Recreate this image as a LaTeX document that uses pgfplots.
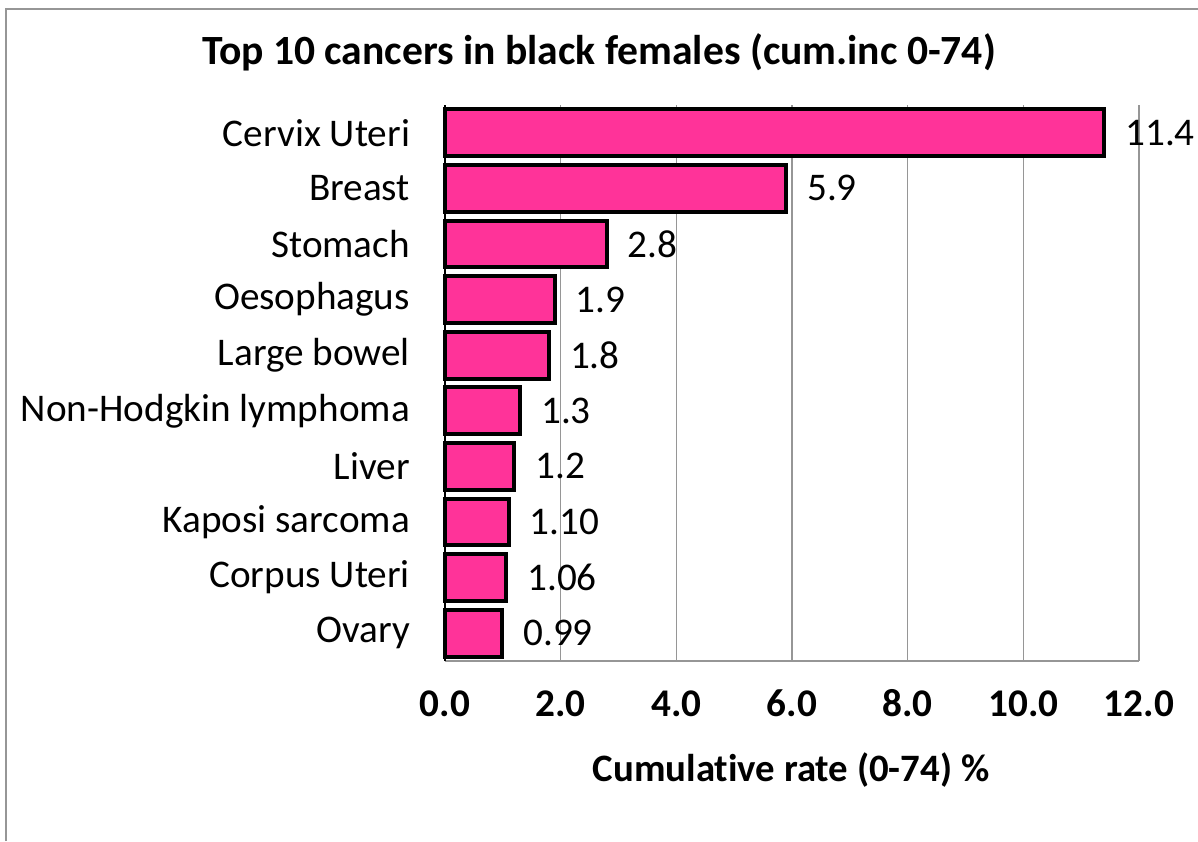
\documentclass[border=0pt]{standalone}
\usepackage{pgfplots}
\pgfplotsset{compat=1.18}
\usepackage{fontspec}
\setmainfont[Ligatures=NoCommon]{Carlito}
\definecolor{barpink}{RGB}{255,51,153}
\definecolor{framegray}{RGB}{150,150,150}
\begin{document}
\begin{tikzpicture}
\path[use as bounding box] (0,0) rectangle (599pt,420.5pt);
\draw[framegray, line width=1pt] (3pt,0) -- (3pt,416pt) -- (599pt,416pt);
\node[font=\fontsize{20.8}{25}\selectfont\bfseries] at (299.5pt,394.5pt) {Top 10 cancers in black females (cum.inc 0-74)};
\begin{axis}[
  at={(222.5pt,90pt)}, anchor=south west,
  scale only axis, width=347pt, height=278pt,
  xbar, bar width=0.84,
  xmin=0, xmax=12, ymin=0.5, ymax=10.5,
  xtick={0,2,...,12},
  xticklabel={\pgfmathprintnumber[fixed,fixed zerofill,precision=1]{\tick}},
  /pgf/number format/assume math mode=true,
  ytick={1,...,10},
  yticklabels={Ovary,Corpus Uteri,Kaposi sarcoma,Liver,Non-Hodgkin lymphoma,Large bowel,Oesophagus,Stomach,Breast,Cervix Uteri},
  xticklabel style={font=\fontsize{19.6}{23}\selectfont\bfseries, text height=13pt, text depth=0pt, yshift=-11pt},
  yticklabel style={font=\fontsize{19.6}{23}\selectfont, xshift=-14pt},
  major tick length=0pt,
  axis lines=left,
  axis line style={-},
  x axis line style={framegray, line width=0.8pt},
  y axis line style={black, line width=0.8pt},
  xmajorgrids, grid style={framegray, line width=0.6pt},
  nodes near coords,
  point meta=explicit symbolic,
  every node near coord/.append style={font=\fontsize{19.6}{23}\selectfont, anchor=west, inner sep=0pt, xshift=9.5pt},
  clip=false,
]
\addplot[draw=black, line width=2pt, fill=barpink] coordinates {
(11.4,10) [11.4]
(5.9,9) [5.9]
(2.8,8) [2.8]
(1.9,7) [1.9]
(1.8,6) [1.8]
(1.3,5) [1.3]
(1.2,4) [1.2]
(1.10,3) [1.10]
(1.06,2) [1.06]
(0.99,1) [0.99]
};
\end{axis}
\node[font=\fontsize{19.4}{23}\selectfont\bfseries] at (395.5pt,35.5pt) {Cumulative rate (0-74) \%};
\end{tikzpicture}
\end{document}
